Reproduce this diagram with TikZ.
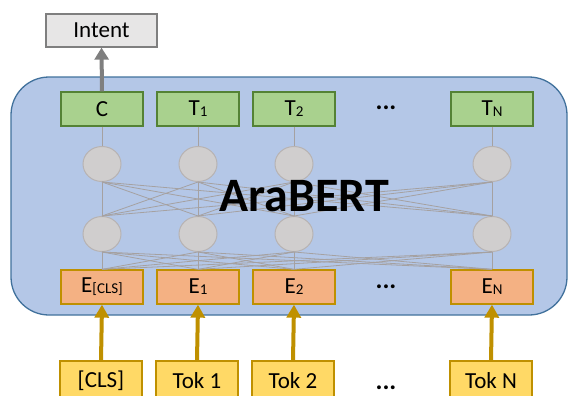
\documentclass[tikz,border=0pt]{standalone}
\usepackage{fontspec}
\setmainfont{Carlito}
\usetikzlibrary{arrows.meta,shapes.geometric}

\definecolor{bertfill}{HTML}{B4C7E7}
\definecolor{bertline}{HTML}{41719C}
\definecolor{outfill}{HTML}{A9D18E}
\definecolor{outline}{HTML}{548235}
\definecolor{embfill}{HTML}{F4B183}
\definecolor{tokfill}{HTML}{FFD966}
\definecolor{goldline}{HTML}{BF9000}
\definecolor{hidfill}{HTML}{D0CECE}
\definecolor{hidline}{HTML}{B7B3B3}
\definecolor{intfill}{HTML}{E7E6E6}
\definecolor{intline}{HTML}{7F7F7F}

% small lowered index, as in T1, EN
\newcommand\lowidx[1]{\raisebox{-1pt}{\fontsize{15}{15}\selectfont #1}}

\begin{document}
\begin{tikzpicture}[x=1pt,y=-1pt,
		every node/.style={font=\fontsize{23}{23}\selectfont, inner sep=0pt},
		box/.style={draw, line width=1.3pt, minimum width=82pt, minimum height=34pt},
		intentbox/.style={box, draw=intline, fill=intfill, minimum width=111pt, minimum height=33pt},
		outbox/.style={box, draw=outline, fill=outfill},
		embbox/.style={box, draw=goldline, fill=embfill},
		tokbox/.style={box, draw=goldline, fill=tokfill, minimum height=40pt},
		hidden/.style={ellipse, draw=hidline, fill=hidfill, line width=1pt, minimum width=38pt, minimum height=35pt},
		link/.style={draw=hidline!90!black, line width=0.8pt},
		grayarrow/.style={draw=intline, line width=4pt, -{Triangle[width=14pt,length=12pt]}},
		goldarrow/.style={draw=goldline, line width=4pt, -{Triangle[width=14pt,length=13pt]}},
		dots/.style={font=\fontsize{26}{26}\selectfont\bfseries}]
		\clip (0,0) rectangle (570,396);
		% encoder body
		\draw [bertline, fill=bertfill, line width=1.3pt, rounded corners=38pt] (11,77) rectangle (567,315);
		% output row
		\node [intentbox] (intent) at (101.5,30.5) {Intent};
		\node [outbox] (out1) at (102,109) {C};
		\node [outbox] (out2) at (198,109) {T\lowidx{1}};
		\node [outbox] (out3) at (294,109) {T\lowidx{2}};
		\node [outbox] (out4) at (492,109) {T\lowidx{N}};
		\node [dots] (dotsa) at (386,108) {...};
		% hidden units
		\node [hidden] (ha1) at (102,164) {};
		\node [hidden] (ha2) at (198,164) {};
		\node [hidden] (ha3) at (294,164) {};
		\node [hidden] (ha4) at (492,164) {};
		\node [hidden] (hb1) at (102,234) {};
		\node [hidden] (hb2) at (198,234) {};
		\node [hidden] (hb3) at (294,234) {};
		\node [hidden] (hb4) at (492,234) {};
		% embeddings
		\node [embbox] (emb1) at (102,287) {E\lowidx{[CLS]}};
		\node [embbox] (emb2) at (198,287) {E\lowidx{1}};
		\node [embbox] (emb3) at (294,287) {E\lowidx{2}};
		\node [embbox] (emb4) at (492,287) {E\lowidx{N}};
		\node [dots] (dotsb) at (386,287) {...};
		% input tokens
		\node [tokbox] (tok1) at (101,381) {[CLS]};
		\node [tokbox] (tok2) at (197,381) {Tok 1};
		\node [tokbox] (tok3) at (293,381) {Tok 2};
		\node [tokbox] (tok4) at (491,381) {Tok N};
		\node [dots] (dotsc) at (386,388) {...};
		% connections
		\foreach \i in {1,2,3,4} {
			\draw [link] (out\i.south) -- (ha\i.north);
			\foreach \j in {1,2,3,4} {
				\draw [link] (ha\i.south) -- (hb\j.north);
				\draw [link] (hb\i.south) -- (emb\j.north);
			}
			\draw [goldarrow] (tok\i.north) -- (emb\i.south);
		}
		\draw [grayarrow] (out1.north) -- (intent.south);
		\node [font=\fontsize{48}{48}\selectfont\bfseries] (bert) at (304,196) {AraBERT};
	\end{tikzpicture}
\end{document}
